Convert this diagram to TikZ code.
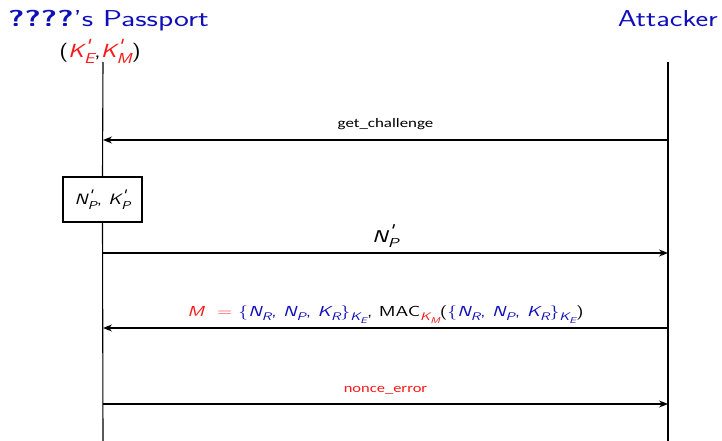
\documentclass[tikz,border=0pt]{standalone}
\usepackage{fontspec}
\usepackage{graphicx}
\renewcommand{\familydefault}{\sfdefault}
\newfontfamily\calfont{Carlito}
\usetikzlibrary{arrows.meta}
\definecolor{navy}{RGB}{15,15,185}
\definecolor{kred}{RGB}{250,25,25}
\newcommand{\sx}[2][1.33]{\scalebox{#1}[1]{#2}}
\newcommand{\vi}[1]{{\itshape #1}}
\newcommand{\lo}[1]{\raisebox{-0.3em}{\scalebox{0.76}{#1}}}
\newcommand{\pr}{\rlap{\hspace{0.02em}\raisebox{0.36em}{\scalebox{0.9}{\itshape\textquotesingle}}}}
\newcommand{\vsub}[2]{\vi{#1}\lo{\vi{#2}}}
\newcommand{\vps}[2]{\vi{#1}\pr\lo{\vi{#2}}}
\tikzset{
  msg/.style={draw, line width=1.1pt, -{Stealth[length=9pt,width=7pt]}},
  life/.style={draw, line width=1.1pt},
  lbl/.style={inner sep=0pt, anchor=base, yshift=12pt},
}
\begin{document}
\begin{tikzpicture}[x=1pt,y=-1pt]
\useasboundingbox (0,0) rectangle (722,441);
\node[anchor=base west, inner sep=0, text=navy] (pt) at (8,27) {\fontsize{23}{26}\selectfont\sx[1.37]{\textbf{????}'s Passport}};
\node[anchor=base east, inner sep=0, text=navy] (at) at (718,27) {\fontsize{23}{26}\selectfont\sx[1.31]{Attacker}};
\node[anchor=base, inner sep=0] (keys) at (100,58) {\fontsize{19}{22}\selectfont\sx[1.28]{(\textcolor{kred}{\vps{K}{E}},\textcolor{kred}{\vps{K}{M}})}};
\coordinate (pTop) at (103,62);
\coordinate (pBot) at (103,441);
\coordinate (aTop) at (668,62);
\coordinate (aBot) at (668,441);
\node[draw, line width=1.1pt, fill=white, minimum width=79pt, minimum height=45pt, inner sep=0] (box) at (102.5,199.5) {\fontsize{15}{17}\selectfont\sx[1.28]{\vps{N}{P}, \vps{K}{P}}};
\draw[life] (pTop) -- (box.north);
\draw[life] (box.south) -- (pBot);
\draw[life] (aTop) -- (aBot);
\coordinate (a1) at (668,140); \coordinate (p1) at (103,140);
\coordinate (p2) at (103,253); \coordinate (a2) at (668,253);
\coordinate (a3) at (668,328); \coordinate (p3) at (103,328);
\coordinate (p4) at (103,404); \coordinate (a4) at (668,404);
\draw[msg] (a1) -- node[lbl] (l1) {\calfont\fontsize{13}{15}\selectfont\sx[1.3]{get\_challenge}} (p1);
\draw[msg] (p2) -- node[lbl, yshift=-1pt] (l2) {\fontsize{17}{19}\selectfont\sx[1.4]{\vps{N}{P}}} (a2);
\draw[msg] (a3) -- node[lbl] (l3) {\fontsize{14.5}{16}\selectfont\sx[1.36]{\textcolor{kred}{\vi{M}\ \ =}\ \textcolor{navy}{\{\vsub{N}{R}, \vsub{N}{P}, \vsub{K}{R}\}\lo{\vsub{K}{E}}},\ MAC\lo{\textcolor{kred}{\vsub{K}{M}}}(\textcolor{navy}{\{\vsub{N}{R}, \vsub{N}{P}, \vsub{K}{R}\}\lo{\vsub{K}{E}}})}} (p3);
\draw[msg] (p4) -- node[lbl] (l4) {\calfont\fontsize{12.7}{15}\selectfont\sx[1.3]{\textcolor{kred}{nonce\_error}}} (a4);
\end{tikzpicture}
\end{document}
